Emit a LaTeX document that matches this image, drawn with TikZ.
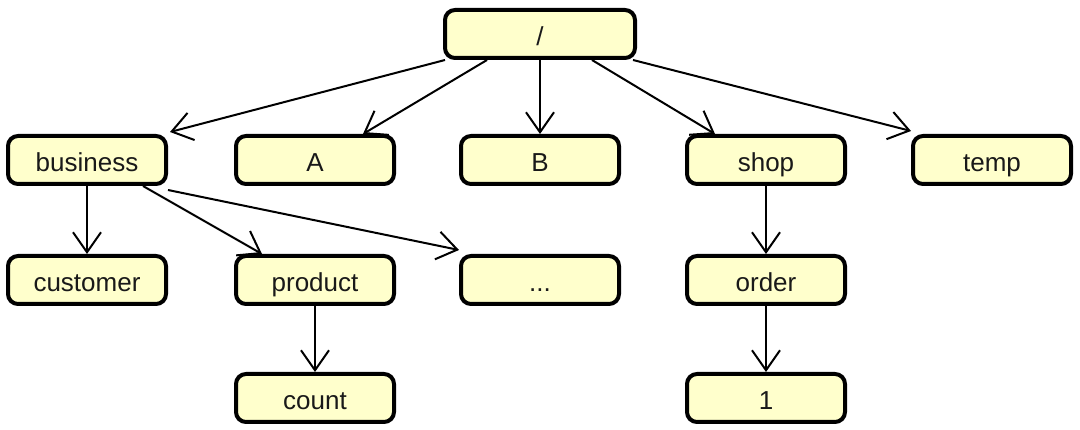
\documentclass[tikz,border=0pt]{standalone}
\usepackage{fontspec}
\setmainfont{Liberation Sans}
\usetikzlibrary{arrows.meta}
\definecolor{boxfill}{RGB}{255,255,204}
\begin{document}
\begin{tikzpicture}[x=1pt,y=-1pt,
  box/.style={draw=black, line width=4pt, fill=boxfill, rounded corners=10pt,
    minimum width=158pt, minimum height=48pt, inner sep=0pt,
    text height=24pt, text depth=0pt,
    font=\fontsize{26}{30}\selectfont, text=black!90},
  wide/.style={minimum width=190pt},
  arr/.style={line width=2pt, draw=black,
    -{Straight Barb[length=20pt,width=28pt,line width=2pt]}}]
\useasboundingbox (0,0) rectangle (1080,430);
% nodes
\node[box,wide] (root) at (540,34) {/};
\node[box] (business) at (87,160) {business};
\node[box] (A) at (315,160) {A};
\node[box] (B) at (540,160) {B};
\node[box] (shop) at (766,160) {shop};
\node[box] (temp) at (992,160) {temp};
\node[box] (customer) at (87,280) {customer};
\node[box] (product) at (315,280) {product};
\node[box] (dots) at (540,280) {...};
\node[box] (order) at (766,280) {order};
\node[box] (count) at (315,398) {count};
\node[box] (one) at (766,398) {1};
% connectors
\draw[arr] ([xshift=2pt]root.south west) -- ([xshift=2pt,yshift=2pt]business.north east);
\draw[arr] ([xshift=-53pt]root.south) -- ([xshift=48pt]A.north);
\draw[arr] (root.south) -- (B.north);
\draw[arr] ([xshift=52pt]root.south) -- ([xshift=-51pt]shop.north);
\draw[arr] ([xshift=-4pt]root.south east) -- ([yshift=3pt]temp.north west);
\draw[arr] (business.south) -- (customer.north);
\draw[arr] ([xshift=56pt]business.south) -- ([xshift=28pt]product.north west);
\draw[arr] ([yshift=-4pt]business.south east) -- ([yshift=4pt]dots.north west);
\draw[arr] (product.south) -- (count.north);
\draw[arr] (shop.south) -- (order.north);
\draw[arr] (order.south) -- (one.north);
\end{tikzpicture}
\end{document}
